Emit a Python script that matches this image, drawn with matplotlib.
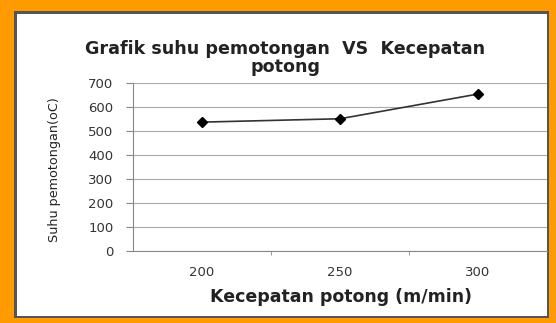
import matplotlib
matplotlib.use("Agg")
import matplotlib.pyplot as plt
from matplotlib.patches import Rectangle

categories = ["200", "250", "300"]
suhu = [537, 551, 654]
yticks = [0, 100, 200, 300, 400, 500, 600, 700]

W, H = 556, 323
fig = plt.figure(figsize=(W / 100, H / 100), dpi=100)
fig.patch.set_facecolor("#FF9A00")

# white panel with dark edge
fig.patches.append(Rectangle((14 / W, (H - 318) / H), (549 - 14) / W, (318 - 11) / H,
                             transform=fig.transFigure, facecolor="#555555",
                             edgecolor="none", zorder=-5))
fig.patches.append(Rectangle((17 / W, (H - 315.5) / H), (546.5 - 17) / W, (315.5 - 14) / H,
                             transform=fig.transFigure, facecolor="white",
                             edgecolor="none", zorder=-4))

ax = fig.add_axes([133 / W, (H - 251) / H, (547 - 133) / W, (251 - 83) / H])
ax.set_zorder(5)
ax.set_facecolor("none")
x = list(range(len(categories)))
ax.plot(x, suhu, color="#333333", lw=1.2, marker="D", ms=5, mfc="black", mec="black", zorder=3)
ax.set_xlim(-0.5, 2.5)
ax.set_ylim(0, 700)
ax.set_yticks(yticks)
ax.set_yticklabels([str(v) for v in yticks], fontsize=9.5, color="#333333", family="DejaVu Sans")
ax.set_xticks(x)
ax.set_xticklabels(categories, fontsize=9.5, color="#333333", family="DejaVu Sans")
ax.set_xticks([0.5, 1.5], minor=True)
ax.tick_params(axis="x", which="major", length=0, pad=11)
ax.tick_params(axis="x", which="minor", length=3, color="#888888")
ax.tick_params(axis="y", length=5, color="#888888", pad=9)
ax.grid(axis="y", color="#aaaaaa", lw=0.8)
ax.set_axisbelow(True)
for s in ["top", "right"]:
    ax.spines[s].set_visible(False)
ax.spines["left"].set_color("#888888")
ax.spines["bottom"].set_color("#888888")

fig.text(285 / W, 1 - 49 / H, "Grafik suhu pemotongan  VS  Kecepatan", ha="center", va="center",
         fontsize=12.6, fontweight="bold", family="DejaVu Sans", color="#222222", zorder=6)
fig.text(285 / W, 1 - 67 / H, "potong", ha="center", va="center",
         fontsize=12.6, fontweight="bold", family="DejaVu Sans", color="#222222", zorder=6)
fig.text(341 / W, 1 - 297 / H, "Kecepatan potong (m/min)", ha="center", va="center",
         fontsize=12.5, fontweight="bold", family="DejaVu Sans", color="#222222", zorder=6)
fig.text(55 / W, 1 - 170 / H, "Suhu pemotongan(oC)", ha="center", va="center", rotation=90,
         fontsize=9.2, family="DejaVu Sans", color="#222222", zorder=6)

fig.savefig("out.png", dpi=100)
